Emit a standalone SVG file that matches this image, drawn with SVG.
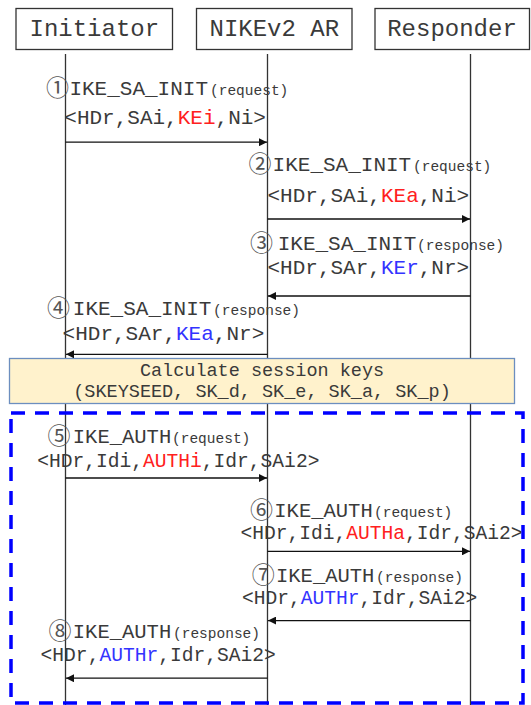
<svg xmlns="http://www.w3.org/2000/svg" width="531" height="705" viewBox="0 0 531 705">
<defs>
<marker id="ah" viewBox="0 0 10 10" refX="10" refY="5" markerWidth="9" markerHeight="8" markerUnits="userSpaceOnUse" orient="auto">
<path d="M0,0 L10,5 L0,10 Z" fill="#111"/>
</marker>
<style>
.box{fill:#fff;stroke:#333;stroke-width:1.3}
.life{stroke:#333;stroke-width:1.3}
.msg{stroke:#111;stroke-width:1.3;fill:none;marker-end:url(#ah)}
text{font-family:"Liberation Mono","Courier New",monospace;fill:#3a3a3a}
.hd{font-size:24px;text-anchor:middle}
.num{font-family:"Noto Sans CJK JP","DejaVu Sans",sans-serif;font-size:23px;text-anchor:middle;fill:#555}
.n1{font-size:21px}
.n2{font-size:20.5px}
.p{font-size:14.5px}
.r1{font-size:21px}
.r2{font-size:19.6px}
.red{fill:#FF2020}
.blue{fill:#3333FF}
.calc{font-size:18.5px;text-anchor:middle}
</style>
</defs>
<rect x="0" y="0" width="531" height="705" fill="#fff"/>

<g id="lifelines">
<line class="life" x1="65.5" y1="54" x2="65.5" y2="705"/>
<line class="life" x1="267.5" y1="54" x2="267.5" y2="705"/>
<line class="life" x1="470.5" y1="54" x2="470.5" y2="705"/>
</g>

<g id="initiator">
<rect class="box" x="16" y="8.5" width="156.5" height="41"/>
<text class="hd" x="94.3" y="36">Initiator</text>
</g>
<g id="nikev2ar">
<rect class="box" x="196.5" y="8.5" width="155.5" height="41"/>
<text class="hd" x="274.3" y="36">NIKEv2 AR</text>
</g>
<g id="responder">
<rect class="box" x="375" y="8.5" width="154.5" height="41"/>
<text class="hd" x="452" y="36">Responder</text>
</g>

<g id="calc">
<rect x="9.5" y="358.5" width="505" height="45" fill="#FFF2CC" stroke="#6C8EBF" stroke-width="1.3"/>
<text class="calc" x="262" y="375.5">Calculate session keys</text>
<text class="calc" x="262" y="397">(SKEYSEED, SK_d, SK_e, SK_a, SK_p)</text>
</g>

<g id="auth-region">
<rect x="11" y="413" width="512" height="290" fill="none" stroke="#0000FF" stroke-width="3.5" stroke-dasharray="14 10"/>
</g>

<g id="connectors">
<line class="msg" x1="65.5" y1="142.2" x2="267" y2="142.2"/>
<line class="msg" x1="267.5" y1="219" x2="470" y2="219"/>
<line class="msg" x1="470.5" y1="296" x2="268" y2="296"/>
<line class="msg" x1="267.5" y1="354.3" x2="66" y2="354.3"/>
<line class="msg" x1="65.5" y1="478" x2="267" y2="478"/>
<line class="msg" x1="267.5" y1="551.3" x2="470" y2="551.3"/>
<line class="msg" x1="470.5" y1="620.6" x2="268" y2="620.6"/>
<line class="msg" x1="267.5" y1="678.2" x2="66" y2="678.2"/>
</g>

<g id="label1">
<text class="num" x="57.5" y="96">①</text>
<text class="n1" x="69.4" y="95">IKE_SA_INIT</text>
<text class="p" x="210" y="95">(request)</text>
<text class="r1" x="64.3" y="123.5">&lt;HDr,SAi,<tspan class="red">KEi</tspan>,Ni&gt;</text>
</g>
<g id="label2">
<text class="num" x="260" y="172">②</text>
<text class="n1" x="272.6" y="171">IKE_SA_INIT</text>
<text class="p" x="413" y="171">(request)</text>
<text class="r1" x="267.5" y="202">&lt;HDr,SAi,<tspan class="red">KEa</tspan>,Ni&gt;</text>
</g>
<g id="label3">
<text class="num" x="261.5" y="251.3">③</text>
<text class="n1" x="277.7" y="250.3">IKE_SA_INIT</text>
<text class="p" x="417" y="250.3">(response)</text>
<text class="r1" x="267.5" y="274">&lt;HDr,SAr,<tspan class="blue">KEr</tspan>,Nr&gt;</text>
</g>
<g id="label4">
<text class="num" x="58.4" y="315.7">④</text>
<text class="n1" x="72.8" y="314.7">IKE_SA_INIT</text>
<text class="p" x="213" y="314.7">(response)</text>
<text class="r1" x="62.6" y="340">&lt;HDr,SAr,<tspan class="blue">KEa</tspan>,Nr&gt;</text>
</g>
<g id="label5">
<text class="num" x="59" y="444">⑤</text>
<text class="n2" x="72.8" y="443">IKE_AUTH</text>
<text class="p" x="172" y="443">(request)</text>
<text class="r2" x="37.2" y="466.8">&lt;HDr,Idi,<tspan class="red">AUTHi</tspan>,Idr,SAi2&gt;</text>
</g>
<g id="label6">
<text class="num" x="261.5" y="517.7">⑥</text>
<text class="n2" x="274.3" y="516.7">IKE_AUTH</text>
<text class="p" x="374" y="516.7">(request)</text>
<text class="r2" x="240.4" y="539.4">&lt;HDr,Idi,<tspan class="red">AUTHa</tspan>,Idr,SAi2&gt;</text>
</g>
<g id="label7">
<text class="num" x="263.3" y="582.7">⑦</text>
<text class="n2" x="276" y="581.7">IKE_AUTH</text>
<text class="p" x="376" y="581.7">(response)</text>
<text class="r2" x="242" y="603.7">&lt;HDr,<tspan class="blue">AUTHr</tspan>,Idr,SAi2&gt;</text>
</g>
<g id="label8">
<text class="num" x="60" y="638.6">⑧</text>
<text class="n2" x="72.8" y="637.6">IKE_AUTH</text>
<text class="p" x="173" y="637.6">(response)</text>
<text class="r2" x="40.6" y="661.3">&lt;HDr,<tspan class="blue">AUTHr</tspan>,Idr,SAi2&gt;</text>
</g>
</svg>
